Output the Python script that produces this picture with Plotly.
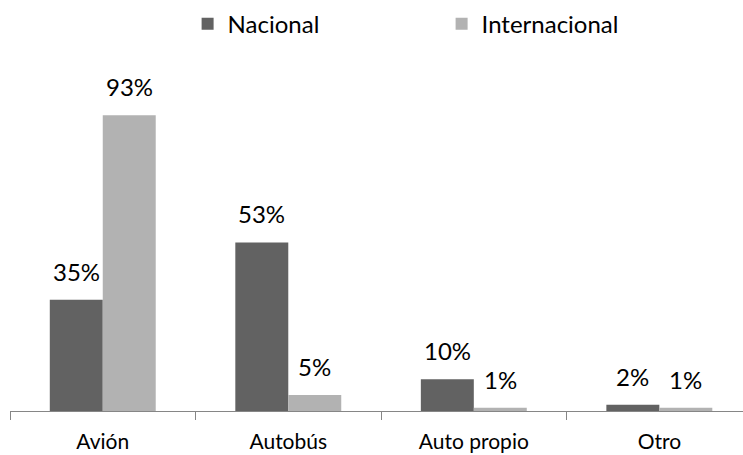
import plotly.graph_objects as go

categories = ["Avión", "Autobús", "Auto propio", "Otro"]
nacional = [35, 53, 10, 2]
internacional = [93, 5, 1, 1]
series_names = ["Nacional", "Internacional"]
colors = ["#626262", "#b2b2b2"]

FONT = "Lato"
LABEL_SIZE = 24
fig = go.Figure()
for name, vals, col in zip(series_names, [nacional, internacional], colors):
    fig.add_trace(go.Bar(
        x=categories, y=vals, name=name,
        marker=dict(color=col, line=dict(width=0)),
    ))

# data labels anchored to each bar's value through the axes
half_bar = 26.5
for vals, shift in ((nacional, -half_bar), (internacional, half_bar)):
    for cat, v in zip(categories, vals):
        fig.add_annotation(x=cat, y=v, xref="x", yref="y", text=f"{v}%",
                           showarrow=False, xshift=shift, yshift=12, yanchor="bottom",
                           font=dict(family=FONT, size=LABEL_SIZE, color="#000000"))

fig.update_layout(
    width=743, height=455,
    margin=dict(l=10, r=0, t=93, b=44),
    paper_bgcolor="white", plot_bgcolor="white",
    barmode="group", bargap=0.429, bargroupgap=0,
    font=dict(family=FONT, size=22, color="#000000"),
    showlegend=True,
    legend=dict(orientation="h", xref="container", yref="container",
                x=0.2525, xanchor="left", y=0.947, yanchor="middle",
                entrywidth=209, font=dict(family=FONT, size=24, color="#000000"),
                itemclick=False, bgcolor="rgba(0,0,0,0)"),
    xaxis=dict(range=[-0.5, 3.451], showline=True, linecolor="#868686", linewidth=1,
               ticks="outside", tickson="boundaries", ticklen=8, tickcolor="#868686",
               ticklabelstandoff=12, showgrid=False, zeroline=False, automargin=False,
               tickfont=dict(family=FONT, size=21, color="#000000")),
    yaxis=dict(range=[0, 100], visible=False, showgrid=False, zeroline=False,
               automargin=False),
)

fig.write_html("out.html", config={"displayModeBar": False},
               post_script="document.body.style.margin='0';document.body.style.overflow='hidden';")
